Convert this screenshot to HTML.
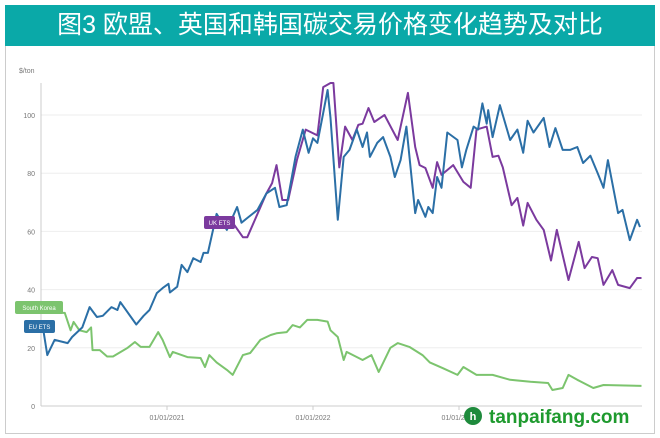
<!DOCTYPE html>
<html><head><meta charset="utf-8">
<style>
body{margin:0;width:660px;height:438px;background:#fff;overflow:hidden;font-family:"Liberation Sans","Noto Sans CJK SC",sans-serif;}
#title{position:absolute;left:5px;top:5px;width:650px;height:41px;background:#0aa9a8;color:#fff;font-size:25px;line-height:41px;text-align:center;font-family:"Liberation Sans","Noto Sans CJK SC",sans-serif;}
#frame{position:absolute;left:5px;top:46px;width:648px;height:387px;border:1px solid #ccc;border-top:none;}
svg{position:absolute;left:0;top:0;}
</style></head><body>
<div id="title">图3 欧盟、英国和韩国碳交易价格变化趋势及对比</div>
<div id="frame"></div>
<svg id="chart" width="660" height="438"></svg>
<script>
const yTicks=[0,20,40,60,80,100];
const xTickDates=[2021,2022,2023];
const xTickLabels=["01/01/2021","01/01/2022","01/01/2023"];
const euDates=[2020.15,2020.18,2020.23,2020.32,2020.35,2020.42,2020.47,2020.52,2020.56,2020.62,2020.66,2020.68,2020.79,2020.84,2020.88,2020.93,2020.97,2021.01,2021.02,2021.07,2021.10,2021.14,2021.18,2021.23,2021.25,2021.28,2021.34,2021.41,2021.48,2021.51,2021.55,2021.62,2021.68,2021.74,2021.77,2021.82,2021.88,2021.93,2021.97,2022.00,2022.03,2022.07,2022.10,2022.12,2022.17,2022.21,2022.25,2022.30,2022.34,2022.37,2022.39,2022.44,2022.48,2022.53,2022.56,2022.60,2022.64,2022.70,2022.72,2022.77,2022.79,2022.82,2022.85,2022.88,2022.92,2022.99,2023.02,2023.05,2023.10,2023.13,2023.16,2023.19,2023.20,2023.23,2023.28,2023.35,2023.40,2023.44,2023.47,2023.51,2023.58,2023.62,2023.66,2023.71,2023.76,2023.81,2023.85,2023.90,2023.95,2023.99,2024.02,2024.09,2024.12,2024.17,2024.22,2024.24];
const euValues=[27,17.5,22.7,21.6,23.7,27,34,30.6,31,34,33,35.7,28,31,33,38.8,40.5,42,39,41,48.5,46,50.8,49.5,52.6,52.6,66,60.5,68.4,63,64.6,67.4,73,75,68.4,69,85.6,95,87,92,90.4,100.7,108.6,99,64,85.6,88,95,89,94,85.6,90.4,92.4,85.6,78.7,84.5,96,66.3,70.8,65,68.4,66.3,78.7,75,94,91.4,82,88,96,95,104,97,101.7,92.4,103.4,91.4,95,87,98,94,99,89,95.5,88,88,89,83.5,86,80,75,84.5,66.3,67.4,57,64,61.5];
const ukDates=[2021.45,2021.52,2021.55,2021.62,2021.68,2021.72,2021.75,2021.79,2021.83,2021.89,2021.95,2022.03,2022.07,2022.12,2022.14,2022.18,2022.22,2022.27,2022.31,2022.34,2022.38,2022.42,2022.49,2022.58,2022.65,2022.70,2022.73,2022.77,2022.82,2022.85,2022.88,2022.96,2023.03,2023.08,2023.12,2023.19,2023.23,2023.27,2023.30,2023.36,2023.40,2023.44,2023.47,2023.53,2023.58,2023.63,2023.67,2023.75,2023.82,2023.86,2023.91,2023.95,2023.99,2024.05,2024.09,2024.17,2024.22,2024.25];
const ukValues=[63,58,58,66,73,76.6,82.8,70.8,70.8,84.5,95,93,109.6,111,111,82,96,91.4,96.6,97,102.4,97.6,100,91.4,107.6,89,82.8,81.8,75,83.8,79.4,82.8,77,75,95,96,85.6,86,82,69,71.5,62,69.8,64,60.5,50,60.5,43.3,56.4,47.4,51.2,50.8,41.6,46.7,41.6,40.5,44,44];
const skDates=[2020.15,2020.30,2020.34,2020.36,2020.40,2020.45,2020.48,2020.49,2020.54,2020.59,2020.63,2020.73,2020.78,2020.82,2020.88,2020.94,2020.97,2021.02,2021.04,2021.14,2021.23,2021.26,2021.29,2021.34,2021.41,2021.45,2021.52,2021.57,2021.64,2021.71,2021.75,2021.82,2021.86,2021.91,2021.96,2022.03,2022.10,2022.12,2022.17,2022.21,2022.23,2022.34,2022.40,2022.45,2022.53,2022.58,2022.66,2022.75,2022.80,2022.89,2022.99,2023.03,2023.12,2023.23,2023.35,2023.49,2023.61,2023.64,2023.71,2023.75,2023.81,2023.92,2023.99,2024.25];
const skValues=[32,32,26,28.9,26,25.4,27,19.2,19.2,17,17,20,22,20.3,20.3,25.4,22.7,16.8,18.6,16.8,16.5,13.4,17.5,15,12.4,10.7,17.5,18.2,22.7,24.4,25,25.4,27.8,27,29.6,29.6,29,26,23.7,15.8,18.6,15.8,17.5,11.7,20,21.6,20.3,17.5,15,13,10.7,13.4,10.7,10.7,9,8.3,7.9,5.5,6.2,10.7,9,6.2,7.2,6.9];

const svg=document.getElementById('chart');
const NS='http://www.w3.org/2000/svg';
const x0=167,x1=313; // 2021 -> 2022 px
function xs(t){return x0+(t-2021)*(x1-x0);}
function ys(v){return 406-v*2.91;}
function mk(tag,attrs,parent){const e=document.createElementNS(NS,tag);for(const k in attrs)e.setAttribute(k,attrs[k]);(parent||svg).appendChild(e);return e;}

// gridlines & y ticks
yTicks.forEach(v=>{
  const g=mk('line',{x1:41,x2:642,y1:ys(v),y2:ys(v),stroke:v===0?'#ccc':'#eee','stroke-width':1});
  
  
  const t=mk('text',{x:35,y:ys(v)+3,'text-anchor':'end','font-size':7,fill:'#777','font-family':'Liberation Sans, sans-serif'});
  t.textContent=v;
  
  
});
const ya=mk('line',{x1:41,x2:41,y1:83,y2:406,stroke:'#ccc'});


const yt=mk('text',{x:19,y:73,'font-size':7,fill:'#777','font-family':'Liberation Sans, sans-serif'});
yt.textContent='$/ton';


xTickDates.forEach((d,i)=>{
  const tk=mk('line',{x1:xs(d),x2:xs(d),y1:406,y2:410,stroke:'#ccc'});
  
  
  const t=mk('text',{x:xs(d),y:420,'text-anchor':'middle','font-size':7,fill:'#777','font-family':'Liberation Sans, sans-serif'});
  t.textContent=xTickLabels[i];
  
  
});
function line(dates,vals,color,name){
  const d=dates.map((t,i)=>(i?'L':'M')+xs(t).toFixed(1)+','+ys(vals[i]).toFixed(1)).join('');
  const p=mk('path',{d:d,fill:'none',stroke:color,'stroke-width':2,'stroke-linejoin':'round'});
  
  
}
line(skDates,skValues,'#7cc46e','south-korea-line');
line(ukDates,ukValues,'#7b3a9e','uk-ets-line');
line(euDates,euValues,'#2b6fa6','eu-ets-line');
function label(x,y,w,txt,color,name){
  const g=mk('g',{});
  
  
  mk('rect',{x:x,y:y,width:w,height:13,rx:2,fill:color},g);
  const t=mk('text',{x:x+w/2,y:y+9,'text-anchor':'middle','font-size':6,fill:'#fff','font-family':'Liberation Sans, sans-serif'},g);
  t.textContent=txt;
}
label(15,301,48,'South Korea','#7cc46e','south-korea-label');
label(24,320,31,'EU ETS','#2b6fa6','eu-ets-label');
label(204,216,31,'UK ETS','#7b3a9e','uk-ets-label');
// watermark
const wm=mk('g',{});


mk('circle',{cx:473,cy:416,r:9,fill:'#1e8a3c'},wm);
const wl=mk('text',{x:473,y:420,'text-anchor':'middle','font-size':11,'font-weight':'bold',fill:'#fff','font-family':'Liberation Sans, sans-serif'},wm);
wl.textContent='h';
const wt=mk('text',{x:489,y:423,'font-size':19,'font-weight':'bold',fill:'#1e9a2e','font-family':'Liberation Sans, sans-serif'},wm);
wt.textContent='tanpaifang.com';
</script>
</body></html>
